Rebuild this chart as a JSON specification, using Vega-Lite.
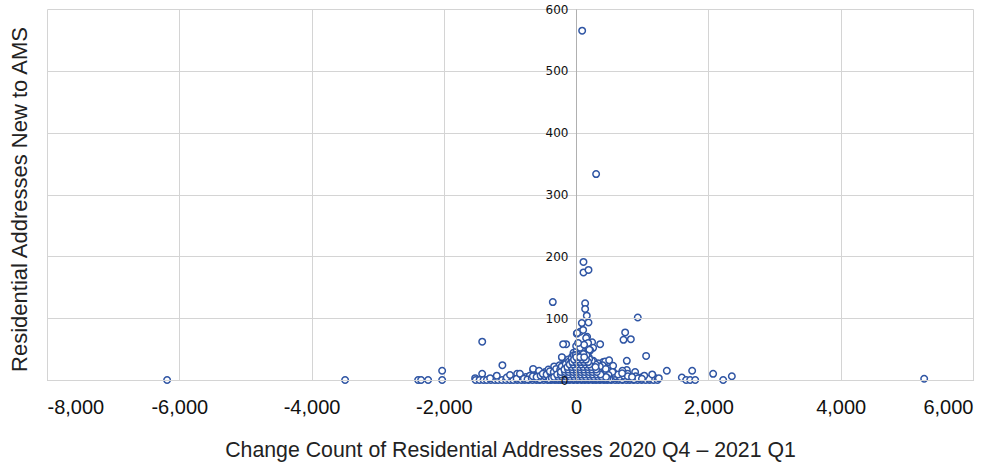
{
  "$schema": "https://vega.github.io/schema/vega-lite/v6.json",
  "width": 926,
  "height": 371,
  "autosize": "none",
  "padding": {"left": 47, "top": 9, "right": 28, "bottom": 85},
  "background": "white",
  "config": {"view": {"stroke": null}},
  "data": {"values": [
    {"change": 91, "newAms": 565},
    {"change": 302, "newAms": 333},
    {"change": 111, "newAms": 191},
    {"change": 111, "newAms": 174},
    {"change": 187, "newAms": 178},
    {"change": -353, "newAms": 126},
    {"change": 136, "newAms": 124},
    {"change": 136, "newAms": 115},
    {"change": 161, "newAms": 104},
    {"change": 187, "newAms": 93},
    {"change": 86, "newAms": 92},
    {"change": 932, "newAms": 101},
    {"change": 741, "newAms": 77},
    {"change": 716, "newAms": 65},
    {"change": 827, "newAms": 66},
    {"change": 1058, "newAms": 39},
    {"change": 766, "newAms": 31},
    {"change": -151, "newAms": 58},
    {"change": 363, "newAms": 58},
    {"change": -1420, "newAms": 62},
    {"change": -1115, "newAms": 24},
    {"change": 10, "newAms": 75},
    {"change": 60, "newAms": 78},
    {"change": 106, "newAms": 81},
    {"change": 16, "newAms": 76},
    {"change": 166, "newAms": 70},
    {"change": 242, "newAms": 61},
    {"change": -197, "newAms": 58},
    {"change": 91, "newAms": 53},
    {"change": -212, "newAms": 36},
    {"change": -166, "newAms": 29},
    {"change": 408, "newAms": 29},
    {"change": 484, "newAms": 29},
    {"change": -469, "newAms": 13},
    {"change": 151, "newAms": 68},
    {"change": 181, "newAms": 60},
    {"change": 257, "newAms": 52},
    {"change": 212, "newAms": 48},
    {"change": -216, "newAms": 37},
    {"change": -333, "newAms": 22},
    {"change": -650, "newAms": 16},
    {"change": 438, "newAms": 30},
    {"change": 499, "newAms": 32},
    {"change": 559, "newAms": 23},
    {"change": 766, "newAms": 16},
    {"change": 892, "newAms": 13},
    {"change": 1371, "newAms": 15},
    {"change": 1164, "newAms": 6},
    {"change": -6184, "newAms": 0},
    {"change": -3493, "newAms": 0},
    {"change": -2389, "newAms": 0},
    {"change": -2344, "newAms": 0},
    {"change": -2238, "newAms": 0},
    {"change": -2026, "newAms": 15},
    {"change": -2026, "newAms": 0},
    {"change": -1527, "newAms": 3},
    {"change": -1421, "newAms": 10},
    {"change": -892, "newAms": 10},
    {"change": -650, "newAms": 18},
    {"change": 2071, "newAms": 10},
    {"change": 2223, "newAms": 0},
    {"change": 2354, "newAms": 6},
    {"change": 5262, "newAms": 2},
    {"change": 1754, "newAms": 15},
    {"change": 1598, "newAms": 4},
    {"change": -227, "newAms": 0},
    {"change": -1520, "newAms": 0}, {"change": -1460, "newAms": 0}, {"change": -1400, "newAms": 0},
    {"change": -1350, "newAms": 0}, {"change": -1290, "newAms": 0}, {"change": -1230, "newAms": 0},
    {"change": -1180, "newAms": 0}, {"change": -1120, "newAms": 0}, {"change": -1060, "newAms": 0},
    {"change": -1000, "newAms": 0}, {"change": -950, "newAms": 0}, {"change": -890, "newAms": 0},
    {"change": -830, "newAms": 0}, {"change": -780, "newAms": 0}, {"change": -720, "newAms": 0},
    {"change": -660, "newAms": 0}, {"change": -600, "newAms": 0}, {"change": -550, "newAms": 0},
    {"change": -490, "newAms": 0}, {"change": -430, "newAms": 0}, {"change": -380, "newAms": 0},
    {"change": -320, "newAms": 0}, {"change": -270, "newAms": 0}, {"change": -210, "newAms": 0},
    {"change": -150, "newAms": 0}, {"change": -100, "newAms": 0}, {"change": -40, "newAms": 0},
    {"change": 20, "newAms": 0}, {"change": 80, "newAms": 0}, {"change": 130, "newAms": 0},
    {"change": 190, "newAms": 0}, {"change": 250, "newAms": 0}, {"change": 300, "newAms": 0},
    {"change": 360, "newAms": 0}, {"change": 420, "newAms": 0}, {"change": 470, "newAms": 0},
    {"change": 530, "newAms": 0}, {"change": 590, "newAms": 0}, {"change": 640, "newAms": 0},
    {"change": 700, "newAms": 0}, {"change": 760, "newAms": 0}, {"change": 810, "newAms": 0},
    {"change": 870, "newAms": 0}, {"change": 930, "newAms": 0}, {"change": 990, "newAms": 0},
    {"change": 1050, "newAms": 0}, {"change": 1110, "newAms": 0}, {"change": 1170, "newAms": 0},
    {"change": 1230, "newAms": 0}, {"change": 1663, "newAms": 0}, {"change": 1724, "newAms": 0},
    {"change": 1800, "newAms": 0},
    {"change": -1300, "newAms": 3}, {"change": -1050, "newAms": 4}, {"change": -900, "newAms": 2},
    {"change": -760, "newAms": 5}, {"change": -600, "newAms": 3}, {"change": -480, "newAms": 4},
    {"change": -350, "newAms": 5}, {"change": -250, "newAms": 3}, {"change": -120, "newAms": 4},
    {"change": 0, "newAms": 5}, {"change": 100, "newAms": 3}, {"change": 230, "newAms": 4},
    {"change": 350, "newAms": 5}, {"change": 480, "newAms": 3}, {"change": 600, "newAms": 4},
    {"change": 720, "newAms": 5}, {"change": 850, "newAms": 3}, {"change": 980, "newAms": 4},
    {"change": 1100, "newAms": 2}, {"change": 1250, "newAms": 3},
    {"change": -1200, "newAms": 7}, {"change": -1000, "newAms": 8}, {"change": -850, "newAms": 10},
    {"change": -700, "newAms": 7}, {"change": -560, "newAms": 11}, {"change": -450, "newAms": 9},
    {"change": -380, "newAms": 12}, {"change": -300, "newAms": 8}, {"change": -200, "newAms": 10},
    {"change": -130, "newAms": 12}, {"change": -60, "newAms": 9}, {"change": 30, "newAms": 11},
    {"change": 90, "newAms": 8}, {"change": 160, "newAms": 12}, {"change": 260, "newAms": 10},
    {"change": 330, "newAms": 7}, {"change": 410, "newAms": 11}, {"change": 520, "newAms": 9},
    {"change": 640, "newAms": 8}, {"change": 780, "newAms": 10}, {"change": 900, "newAms": 6},
    {"change": 1030, "newAms": 7}, {"change": 1150, "newAms": 9},
    {"change": -560, "newAms": 15}, {"change": -420, "newAms": 17}, {"change": -300, "newAms": 14},
    {"change": -220, "newAms": 19}, {"change": -150, "newAms": 16}, {"change": -80, "newAms": 18},
    {"change": -20, "newAms": 20}, {"change": 40, "newAms": 15}, {"change": 110, "newAms": 19},
    {"change": 170, "newAms": 16}, {"change": 240, "newAms": 18}, {"change": 320, "newAms": 14},
    {"change": 420, "newAms": 17}, {"change": 560, "newAms": 13}, {"change": 700, "newAms": 15},
    {"change": -250, "newAms": 24}, {"change": -160, "newAms": 27}, {"change": -100, "newAms": 22},
    {"change": -40, "newAms": 29}, {"change": 10, "newAms": 25}, {"change": 60, "newAms": 28},
    {"change": 120, "newAms": 23}, {"change": 180, "newAms": 26}, {"change": 250, "newAms": 22},
    {"change": 330, "newAms": 27}, {"change": 400, "newAms": 24},
    {"change": -120, "newAms": 33}, {"change": -60, "newAms": 38}, {"change": -10, "newAms": 35},
    {"change": 40, "newAms": 32}, {"change": 80, "newAms": 39}, {"change": 130, "newAms": 34},
    {"change": 190, "newAms": 37}, {"change": 260, "newAms": 31},
    {"change": -40, "newAms": 44}, {"change": 10, "newAms": 48}, {"change": 50, "newAms": 42},
    {"change": 100, "newAms": 46}, {"change": 150, "newAms": 43}, {"change": 200, "newAms": 49},
    {"change": 0, "newAms": 55}, {"change": 60, "newAms": 52}, {"change": 120, "newAms": 57},
    {"change": 30, "newAms": 60},
    {"change": -790, "newAms": 2}, {"change": -735, "newAms": 1}, {"change": -672, "newAms": 3},
    {"change": -610, "newAms": 2}, {"change": -548, "newAms": 1}, {"change": -490, "newAms": 3},
    {"change": -433, "newAms": 2}, {"change": -371, "newAms": 1}, {"change": -312, "newAms": 3},
    {"change": -255, "newAms": 2}, {"change": -190, "newAms": 1}, {"change": -131, "newAms": 3},
    {"change": -72, "newAms": 2}, {"change": -15, "newAms": 1}, {"change": 44, "newAms": 3},
    {"change": 103, "newAms": 2}, {"change": 161, "newAms": 1}, {"change": 222, "newAms": 3},
    {"change": 280, "newAms": 2}, {"change": 338, "newAms": 1}, {"change": 401, "newAms": 3},
    {"change": 459, "newAms": 2}, {"change": 517, "newAms": 1}, {"change": 579, "newAms": 3},
    {"change": 640, "newAms": 2}, {"change": 698, "newAms": 1}, {"change": 757, "newAms": 3},
    {"change": 818, "newAms": 2}, {"change": 875, "newAms": 1}, {"change": 936, "newAms": 3},
    {"change": 995, "newAms": 2},
    {"change": -655, "newAms": 6}, {"change": -598, "newAms": 5}, {"change": -537, "newAms": 7},
    {"change": -474, "newAms": 6}, {"change": -418, "newAms": 5}, {"change": -356, "newAms": 7},
    {"change": -297, "newAms": 6}, {"change": -238, "newAms": 5}, {"change": -176, "newAms": 7},
    {"change": -118, "newAms": 6}, {"change": -57, "newAms": 5}, {"change": 2, "newAms": 7},
    {"change": 61, "newAms": 6}, {"change": 122, "newAms": 5}, {"change": 181, "newAms": 7},
    {"change": 239, "newAms": 6}, {"change": 302, "newAms": 5}, {"change": 360, "newAms": 7},
    {"change": 421, "newAms": 6}, {"change": 478, "newAms": 5}, {"change": 540, "newAms": 7},
    {"change": 598, "newAms": 6}, {"change": 661, "newAms": 5}, {"change": 720, "newAms": 7},
    {"change": 782, "newAms": 6}, {"change": 845, "newAms": 5},
    {"change": -505, "newAms": 10}, {"change": -447, "newAms": 9}, {"change": -386, "newAms": 11},
    {"change": -327, "newAms": 10}, {"change": -266, "newAms": 9}, {"change": -205, "newAms": 11},
    {"change": -146, "newAms": 10}, {"change": -87, "newAms": 9}, {"change": -26, "newAms": 11},
    {"change": 33, "newAms": 10}, {"change": 94, "newAms": 9}, {"change": 152, "newAms": 11},
    {"change": 211, "newAms": 10}, {"change": 273, "newAms": 9}, {"change": 332, "newAms": 11},
    {"change": 393, "newAms": 10}, {"change": 452, "newAms": 9}, {"change": 511, "newAms": 11},
    {"change": 570, "newAms": 10}, {"change": 633, "newAms": 9}, {"change": 695, "newAms": 11},
    {"change": -398, "newAms": 14}, {"change": -339, "newAms": 13}, {"change": -277, "newAms": 15},
    {"change": -219, "newAms": 14}, {"change": -158, "newAms": 13}, {"change": -97, "newAms": 15},
    {"change": -38, "newAms": 14}, {"change": 23, "newAms": 13}, {"change": 82, "newAms": 15},
    {"change": 141, "newAms": 14}, {"change": 200, "newAms": 13}, {"change": 262, "newAms": 15},
    {"change": 321, "newAms": 14}, {"change": 380, "newAms": 13}, {"change": 441, "newAms": 15},
    {"change": 502, "newAms": 14}, {"change": 548, "newAms": 13},
    {"change": -302, "newAms": 18}, {"change": -241, "newAms": 17}, {"change": -182, "newAms": 19},
    {"change": -121, "newAms": 18}, {"change": -62, "newAms": 17}, {"change": -3, "newAms": 19},
    {"change": 58, "newAms": 18}, {"change": 117, "newAms": 17}, {"change": 176, "newAms": 19},
    {"change": 237, "newAms": 18}, {"change": 296, "newAms": 17}, {"change": 355, "newAms": 19},
    {"change": 447, "newAms": 18},
    {"change": -218, "newAms": 22}, {"change": -157, "newAms": 21}, {"change": -98, "newAms": 23},
    {"change": -37, "newAms": 22}, {"change": 22, "newAms": 21}, {"change": 81, "newAms": 23},
    {"change": 142, "newAms": 22}, {"change": 201, "newAms": 21}, {"change": 262, "newAms": 23},
    {"change": 358, "newAms": 22},
    {"change": -158, "newAms": 26}, {"change": -97, "newAms": 25}, {"change": -38, "newAms": 27},
    {"change": 21, "newAms": 26}, {"change": 80, "newAms": 25}, {"change": 141, "newAms": 27},
    {"change": 200, "newAms": 26}, {"change": 297, "newAms": 25},
    {"change": -108, "newAms": 30}, {"change": -49, "newAms": 29}, {"change": 12, "newAms": 31},
    {"change": 71, "newAms": 30}, {"change": 130, "newAms": 29}, {"change": 238, "newAms": 31},
    {"change": -68, "newAms": 35}, {"change": -8, "newAms": 34}, {"change": 52, "newAms": 36},
    {"change": 111, "newAms": 35}, {"change": 198, "newAms": 34},
    {"change": -37, "newAms": 40}, {"change": 23, "newAms": 41}, {"change": 83, "newAms": 39},
    {"change": 157, "newAms": 40},
    {"change": -280, "newAms": 4}, {"change": -225, "newAms": 8}, {"change": -168, "newAms": 3},
    {"change": -110, "newAms": 8}, {"change": -48, "newAms": 3}, {"change": 14, "newAms": 8},
    {"change": 72, "newAms": 4}, {"change": 132, "newAms": 8}, {"change": 192, "newAms": 3},
    {"change": 251, "newAms": 8}, {"change": 311, "newAms": 4}, {"change": 372, "newAms": 8},
    {"change": 431, "newAms": 4}, {"change": 490, "newAms": 8},
    {"change": -245, "newAms": 12}, {"change": -186, "newAms": 16}, {"change": -127, "newAms": 12},
    {"change": -66, "newAms": 16}, {"change": -8, "newAms": 12}, {"change": 51, "newAms": 16},
    {"change": 112, "newAms": 12}, {"change": 171, "newAms": 16}, {"change": 232, "newAms": 12},
    {"change": 291, "newAms": 16}, {"change": 350, "newAms": 12},
    {"change": -128, "newAms": 20}, {"change": -68, "newAms": 24}, {"change": -9, "newAms": 20},
    {"change": 52, "newAms": 24}, {"change": 111, "newAms": 20}, {"change": 171, "newAms": 24},
    {"change": 231, "newAms": 20},
    {"change": -79, "newAms": 28}, {"change": -18, "newAms": 32}, {"change": 42, "newAms": 28},
    {"change": 101, "newAms": 32}, {"change": 160, "newAms": 30},
    {"change": -10, "newAms": 40}, {"change": 50, "newAms": 37}, {"change": 110, "newAms": 42},
    {"change": -402, "newAms": 1}, {"change": -338, "newAms": 1}, {"change": -283, "newAms": 1},
    {"change": -218, "newAms": 1}, {"change": -161, "newAms": 1}, {"change": -97, "newAms": 1},
    {"change": -42, "newAms": 1}, {"change": 22, "newAms": 1}, {"change": 79, "newAms": 1},
    {"change": 143, "newAms": 1}, {"change": 198, "newAms": 1}, {"change": 262, "newAms": 1},
    {"change": 318, "newAms": 1}, {"change": 383, "newAms": 1}, {"change": 437, "newAms": 1},
    {"change": 502, "newAms": 1},
    {"change": -368, "newAms": 3}, {"change": -311, "newAms": 3}, {"change": -247, "newAms": 3},
    {"change": -192, "newAms": 3}, {"change": -128, "newAms": 3}, {"change": -71, "newAms": 3},
    {"change": -8, "newAms": 3}, {"change": 48, "newAms": 3}, {"change": 113, "newAms": 3},
    {"change": 168, "newAms": 3}, {"change": 232, "newAms": 3}, {"change": 287, "newAms": 3},
    {"change": 352, "newAms": 3}, {"change": 408, "newAms": 3}, {"change": 471, "newAms": 3},
    {"change": -333, "newAms": 5}, {"change": -268, "newAms": 5}, {"change": -212, "newAms": 5},
    {"change": -148, "newAms": 5}, {"change": -92, "newAms": 5}, {"change": -28, "newAms": 5},
    {"change": 31, "newAms": 5}, {"change": 92, "newAms": 5}, {"change": 148, "newAms": 5},
    {"change": 212, "newAms": 5}, {"change": 268, "newAms": 5}, {"change": 332, "newAms": 5},
    {"change": 388, "newAms": 5}, {"change": 452, "newAms": 5},
    {"change": -288, "newAms": 9}, {"change": -232, "newAms": 9}, {"change": -168, "newAms": 9},
    {"change": -112, "newAms": 9}, {"change": -48, "newAms": 9}, {"change": 8, "newAms": 9},
    {"change": 72, "newAms": 9}, {"change": 128, "newAms": 9}, {"change": 192, "newAms": 9},
    {"change": 248, "newAms": 9}, {"change": 312, "newAms": 9}, {"change": 368, "newAms": 9},
    {"change": -232, "newAms": 13}, {"change": -168, "newAms": 13}, {"change": -112, "newAms": 13},
    {"change": -48, "newAms": 13}, {"change": 8, "newAms": 13}, {"change": 72, "newAms": 13},
    {"change": 128, "newAms": 13}, {"change": 192, "newAms": 13}, {"change": 248, "newAms": 13},
    {"change": 312, "newAms": 13},
    {"change": -178, "newAms": 17}, {"change": -122, "newAms": 17}, {"change": -58, "newAms": 17},
    {"change": 2, "newAms": 17}, {"change": 62, "newAms": 17}, {"change": 118, "newAms": 17},
    {"change": 182, "newAms": 17}, {"change": 238, "newAms": 17}, {"change": 302, "newAms": 17},
    {"change": -132, "newAms": 21}, {"change": -68, "newAms": 21}, {"change": -12, "newAms": 21},
    {"change": 52, "newAms": 21}, {"change": 108, "newAms": 21}, {"change": 172, "newAms": 21},
    {"change": 228, "newAms": 21}, {"change": 292, "newAms": 21},
    {"change": -98, "newAms": 25}, {"change": -42, "newAms": 25}, {"change": 22, "newAms": 25},
    {"change": 78, "newAms": 25}, {"change": 142, "newAms": 25}, {"change": 198, "newAms": 25},
    {"change": -58, "newAms": 29}, {"change": 2, "newAms": 29}, {"change": 62, "newAms": 29},
    {"change": 118, "newAms": 29}, {"change": 182, "newAms": 29},
    {"change": -32, "newAms": 33}, {"change": 28, "newAms": 33}, {"change": 92, "newAms": 33},
    {"change": 148, "newAms": 33},
    {"change": 2, "newAms": 37}, {"change": 58, "newAms": 37}, {"change": 122, "newAms": 37}
  ]},
  "mark": {"type": "point", "shape": "circle", "filled": false, "fill": "white", "fillOpacity": 1, "stroke": "#2f55a4", "strokeWidth": 1.5, "size": 42, "opacity": 1},
  "encoding": {
    "x": {
      "field": "change", "type": "quantitative",
      "scale": {"domain": [-8000, 6000], "nice": false, "zero": false},
      "axis": {
        "title": "Change Count of Residential Addresses 2020 Q4 – 2021 Q1",
        "values": [-8000, -6000, -4000, -2000, 0, 2000, 4000, 6000],
        "labelExpr": "replace(format(datum.value, ',d'), '\u2212', '-')",
        "grid": true, "gridColor": "#d4d4d4", "gridWidth": 1,
        "domain": true, "domainColor": "#b0b0b0", "domainWidth": 1,
        "ticks": false,
        "labelFont": "Liberation Sans", "labelFontSize": 20, "labelColor": "#111", "labelPadding": 17,
        "titleFont": "Liberation Sans", "titleFontSize": 21.3, "titleFontWeight": "normal", "titleColor": "#222", "titlePadding": 22
      }
    },
    "y": {
      "field": "newAms", "type": "quantitative",
      "scale": {"domain": [0, 600], "nice": false},
      "axis": {
        "title": "Residential Addresses New to AMS",
        "values": [0, 100, 200, 300, 400, 500, 600],
        "offset": -529,
        "zindex": 1,
        "labelOverlap": false,
        "grid": true, "gridColor": "#d4d4d4", "gridWidth": 1,
        "domain": true, "domainColor": "#b0b0b0", "domainWidth": 1,
        "ticks": false,
        "labelFont": "DejaVu Sans", "labelFontSize": 12, "labelColor": "#111", "labelPadding": 8,
        "titleFont": "Liberation Sans", "titleFontSize": 22, "titleFontWeight": "normal", "titleColor": "#222",
        "titleX": -557, "titleY": 190, "titleAngle": -90, "titleAlign": "center", "titleBaseline": "middle"
      }
    }
  }
}
